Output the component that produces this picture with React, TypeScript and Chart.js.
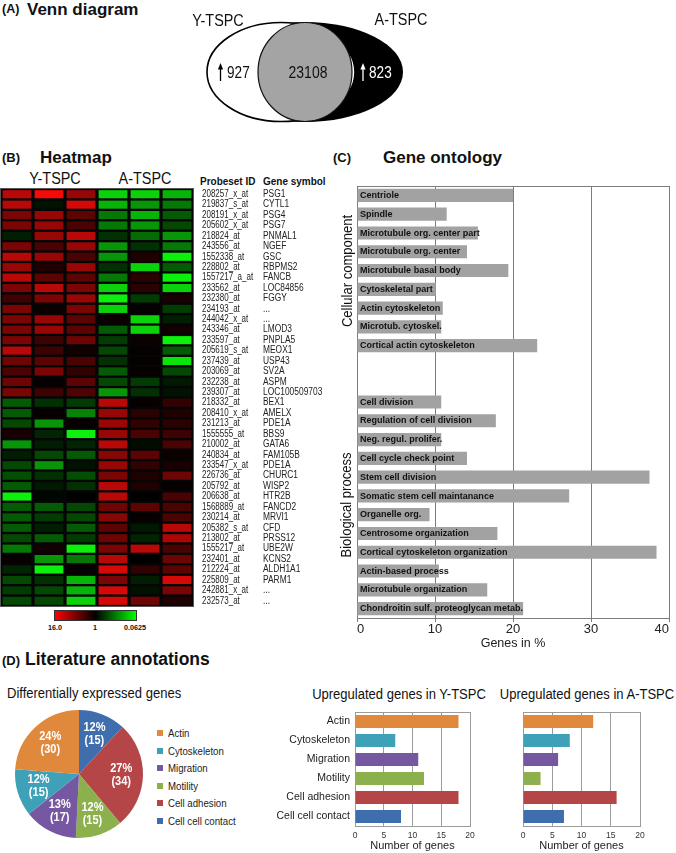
import React, { useEffect, useRef } from "react";
import { Chart, registerables } from "chart.js";
Chart.register(...registerables);

const FONT = '"Liberation Sans", Arial, Helvetica, sans-serif';

// ---------- (A) Venn ----------
const vennSets = ["Y-TSPC", "A-TSPC"];
const vennCounts = [927, 23108, 823]; // Y only, shared, A only

// ---------- (B) Heatmap ----------
const heatGroups = ["Y-TSPC", "A-TSPC"];
const heatColumns = ["Y1", "Y2", "Y3", "A1", "A2", "A3"];
const probesetIds = [
  "208257_x_at", "219837_s_at", "208191_x_at", "205602_x_at", "218824_at", "243556_at",
  "1552338_at", "228802_at", "1557217_a_at", "233562_at", "232380_at", "234193_at",
  "244042_x_at", "243346_at", "233597_at", "205619_s_at", "237439_at", "203069_at",
  "232238_at", "239307_at", "218332_at", "208410_x_at", "231213_at", "1555555_at",
  "210002_at", "240834_at", "233547_x_at", "226736_at", "205792_at", "206638_at",
  "1568889_at", "230214_at", "205382_s_at", "213802_at", "1555217_at", "232401_at",
  "212224_at", "225809_at", "242881_x_at", "232573_at",
];
const geneSymbols = [
  "PSG1", "CYTL1", "PSG4", "PSG7", "PNMAL1", "NGEF",
  "GSC", "RBPMS2", "FANCB", "LOC84856", "FGGY", "...",
  "...", "LMOD3", "PNPLA5", "MEOX1", "USP43", "SV2A",
  "ASPM", "LOC100509703", "BEX1", "AMELX", "PDE1A", "BBS9",
  "GATA6", "FAM105B", "PDE1A", "CHURC1", "WISP2", "HTR2B",
  "FANCD2", "MRVI1", "CFD", "PRSS12", "UBE2W", "KCNS2",
  "ALDH1A1", "PARM1", "...", "...",
];
// log2 fold values (+ red, - green)
const heatY1 = [3, 3, 2, 2, -0.5, 2, 3, 2.5, 3, 2, 1, 2, 2, 2, 2, 3, 1.8, 1.2, 1.8, 2,
  -1.5, -1.5, -1.2, 0.4, -2.5, -0.5, -1.2, -1.3, -1.5, -4, -1.5, -1.5, -1.5, -1.2, -2, 0.1, -0.6, -1.2, -1, -1.2];
const heatY2 = [4, -0.3, 2.5, 2.5, 2.5, 1.2, 2.5, 0.5, 1.5, 3, 2, 0.2, 2.5, 2.5, 1, 1, 1.5, 2, 0.1, 1,
  -0.8, 0.1, -2.5, -0.6, -0.5, -1.2, -2.5, -0.8, -0.4, -0.1, -1.5, -1, -0.5, -1.5, 0.3, -2.5, -4, -0.8, -1.2, -1.2];
const heatY3 = [2.5, 3.5, 1.5, 1.2, 3, 2.5, 1.2, 2.5, 1.5, 2, 2.5, 2, 1.5, 1.5, 1.8, 0.3, 1.2, 0.8, 1.5, 1.3,
  -1, -2.2, 0.1, -4, -0.6, -1.5, -0.3, -1.3, -0.8, 0, -1.2, -1.2, -1.5, -1, -4, -2, 0.1, -3, -3, -3.5];
const heatA1 = [-3.5, -3, -2, -2, -0.8, -2.5, -2.5, -0.8, -2, -3.5, -4, -3.5, 0.2, -1.5, -1, -1.2, -0.8, -1.5, -1.2, -2.5,
  3, 2.5, 2.5, 2.5, 3, 2.2, 2.5, 2, 3, 3, 1.8, 2.2, 1.5, 1.8, 2, 3, 3.5, 2, 3.5, 3.5];
const heatA2 = [-3.5, -2.5, -3, -2.5, -1.8, -0.8, 0.5, -3.5, 0.7, 0.7, -1, 0.1, -3.5, -3.5, 0.2, 0.1, 0.1, 0.1, -1, -0.8,
  0.1, 0.7, 0.8, 1.2, -0.2, 1.5, 0.8, 0.5, 0.5, 0, 1.5, 0.1, -0.4, -0.6, 3, 0, 0.8, -0.5, -0.3, 1.8];
const heatA3 = [-3, -2, -1.5, -1.2, -2.5, -2, -4, -1.5, -4, -3.5, 0.4, -1, -0.5, 0.3, -4, -1.5, -3.8, -1.2, -0.4, -0.3,
  0.8, 0.5, 0.7, 1, 1.2, 0.2, 0.4, 1.8, 0.1, 1.2, 1.2, 1.2, 3, 2.8, 1.2, 1.8, 1.5, 3.5, 2, 0.5];
const heatScaleLabels = ["16.0", "1", "0.0625"];

// ---------- (C) Gene ontology ----------
const goGroups = ["Cellular component", "Biological process"];
const goLabels = [
  "Centriole", "Spindle", "Microtubule org. center part", "Microtubule org. center",
  "Microtubule basal body", "Cytoskeletal part", "Actin cytoskeleton", "Microtub. cytoskel.",
  "Cortical actin cytoskeleton", "", "",
  "Cell division", "Regulation of cell division", "Neg. regul. prolifer.", "Cell cycle check point",
  "Stem cell division", "Somatic stem cell maintanance", "Organelle org.", "Centrosome organization",
  "Cortical cytoskeleton organization", "Actin-based process", "Microtubule organization",
  "Chondroitin sulf. proteoglycan metab.",
];
const goValues = [
  20.0, 11.5, 15.5, 14.1, 19.4, 10.1, 11.0, 10.8, 23.1, null, null,
  10.8, 17.8, 10.8, 14.1, 37.5, 27.2, 9.3, 18.0, 38.4, 10.5, 16.7, 21.3,
];
const goTicks = [0, 10, 20, 30, 40];

// ---------- (D) Literature annotations ----------
const annoCategories = ["Actin", "Cytoskeleton", "Migration", "Motility", "Cell adhesion", "Cell cell contact"];
const annoColors = ["#E0883B", "#3FA1B7", "#7558A1", "#8CB04B", "#B44647", "#3F6EAE"];
const pieCounts = [30, 15, 17, 15, 34, 15]; // same order as annoCategories
const upYTSPC = [18, 7, 11, 12, 18, 8];
const upATSPC = [12, 8, 6, 3, 16, 7];
const barTicks = [0, 5, 10, 15, 20];

// ---------- helpers ----------
function heatColor(v: number) {
  const t = Math.max(-1, Math.min(1, v / 4));
  if (t >= 0) return `rgb(${Math.round(245 * t)},${Math.round(10 * t)},${Math.round(10 * t)})`;
  const u = -t;
  return `rgb(${Math.round(12 * u)},${Math.round(240 * u)},${Math.round(12 * u)})`;
}

function ChartCanvas({ left, top, width, height, make }: any) {
  const ref = useRef<HTMLCanvasElement | null>(null);
  useEffect(() => {
    if (!ref.current) return;
    const chart = new Chart(ref.current, make());
    return () => chart.destroy();
  }, []);
  return (
    <canvas
      ref={ref}
      width={width}
      height={height}
      style={{ position: "absolute", left, top, width, height }}
    />
  );
}

function T({ x, y, children, size = 12, bold = false, anchor = "start", color = "#111", rotate = 0, sx = 1 }: any) {
  const tx = anchor === "middle" ? "-50%" : anchor === "end" ? "-100%" : "0";
  const origin = anchor === "middle" ? "center" : anchor === "end" ? "right" : "left";
  return (
    <div
      style={{
        position: "absolute",
        left: x,
        top: y,
        transform: `translate(${tx}, -50%)${rotate ? ` rotate(${rotate}deg)` : ""}`,
        whiteSpace: "nowrap",
        fontFamily: FONT,
        fontSize: size,
        fontWeight: bold ? 700 : 400,
        lineHeight: 1,
        color,
      }}
    >
      <span style={{ display: "inline-block", transform: `scaleX(${sx})`, transformOrigin: origin }}>
        {children}
      </span>
    </div>
  );
}

function squeezeText(ctx: any, text: string, x: number, y: number, sx: number) {
  ctx.save();
  ctx.translate(x, y);
  ctx.scale(sx, 1);
  ctx.fillText(text, 0, 0);
  ctx.restore();
}

// ---------- chart configs ----------
function makeVenn(): any {
  const vennPlugin = {
    id: "vennDraw",
    afterDraw(chart: any) {
      const { ctx } = chart;
      const xs = chart.scales.x;
      const ys = chart.scales.y;
      const px = (v: number) => xs.getPixelForValue(v);
      const py = (v: number) => ys.getPixelForValue(v);
      const lx = (d: number) => px(d) - px(0);
      const ly = (d: number) => Math.abs(py(d) - py(0));
      ctx.save();
      // A-TSPC (black, outer)
      ctx.beginPath();
      ctx.ellipse(px(305), py(72), lx(98), ly(50), 0, 0, Math.PI * 2);
      ctx.fillStyle = "#000";
      ctx.fill();
      // Y-TSPC (white)
      ctx.beginPath();
      ctx.ellipse(px(281), py(72), lx(74), ly(49.5), 0, 0, Math.PI * 2);
      ctx.fillStyle = "#fff";
      ctx.fill();
      ctx.lineWidth = 1.6;
      ctx.strokeStyle = "#000";
      ctx.stroke();
      // shared
      ctx.beginPath();
      ctx.ellipse(px(305), py(72), lx(47), ly(49.5), 0, 0, Math.PI * 2);
      ctx.fillStyle = "#a4a4a4";
      ctx.fill();
      ctx.lineWidth = 1.2;
      ctx.strokeStyle = "#111";
      ctx.stroke();

      const arrow = (x: number, y0: number, y1: number, color: string) => {
        ctx.strokeStyle = color;
        ctx.fillStyle = color;
        ctx.lineWidth = 1.3;
        ctx.beginPath();
        ctx.moveTo(px(x), py(y1));
        ctx.lineTo(px(x), py(y0) + 4);
        ctx.stroke();
        ctx.beginPath();
        ctx.moveTo(px(x), py(y0));
        ctx.lineTo(px(x) - 2.6, py(y0) + 6.5);
        ctx.lineTo(px(x) + 2.6, py(y0) + 6.5);
        ctx.closePath();
        ctx.fill();
      };
      ctx.textBaseline = "middle";
      ctx.textAlign = "left";
      ctx.font = `17px ${FONT}`;
      arrow(220.5, 63, 81, "#000");
      ctx.fillStyle = "#111";
      squeezeText(ctx, String(vennCounts[0]), px(227), py(73), 0.8);
      ctx.textAlign = "center";
      squeezeText(ctx, String(vennCounts[1]), px(308), py(73), 0.82);
      ctx.textAlign = "left";
      arrow(363, 63, 81, "#fff");
      ctx.fillStyle = "#fff";
      squeezeText(ctx, String(vennCounts[2]), px(369), py(73), 0.8);
      // set labels
      ctx.fillStyle = "#111";
      ctx.font = `16px ${FONT}`;
      ctx.textAlign = "center";
      squeezeText(ctx, vennSets[0], px(218), py(22), 0.9);
      squeezeText(ctx, vennSets[1], px(401), py(21), 0.9);
      ctx.restore();
    },
  };
  return {
    type: "scatter",
    data: { datasets: [] },
    options: {
      animation: false,
      responsive: false,
      events: [],
      layout: { padding: 0 },
      plugins: { legend: { display: false }, tooltip: { enabled: false } },
      scales: {
        x: { type: "linear", min: 180, max: 440, display: false },
        y: { type: "linear", min: 0, max: 130, reverse: true, display: false },
      },
    },
    plugins: [vennPlugin],
  };
}

function makeHeatmap(): any {
  const cols = [heatY1, heatY2, heatY3, heatA1, heatA2, heatA3];
  const bgPlugin = {
    id: "heatBg",
    beforeDatasetsDraw(chart: any) {
      const { ctx, chartArea: a } = chart;
      ctx.save();
      ctx.fillStyle = "#050505";
      ctx.fillRect(a.left - 1, a.top - 1, a.right - a.left + 2, a.bottom - a.top + 2);
      ctx.strokeStyle = "#555";
      ctx.lineWidth = 1;
      ctx.strokeRect(a.left - 0.5, a.top - 0.5, a.right - a.left + 1, a.bottom - a.top + 1);
      ctx.restore();
    },
    afterDraw(chart: any) {
      const { ctx } = chart;
      const ys = chart.scales.y;
      ctx.save();
      ctx.fillStyle = "#222";
      ctx.font = `10px ${FONT}`;
      ctx.textBaseline = "middle";
      ctx.textAlign = "left";
      probesetIds.forEach((id, i) => {
        const y = ys.getPixelForValue(i);
        squeezeText(ctx, id, 202, y, 0.8);
        squeezeText(ctx, geneSymbols[i], 263, y, 0.84);
      });
      ctx.restore();
    },
  };
  return {
    type: "bar",
    data: {
      labels: probesetIds,
      datasets: heatColumns.map((name, c) => ({
        label: name,
        data: probesetIds.map(() => [c + 0.05, c + 0.95]),
        backgroundColor: cols[c].map(heatColor),
        borderWidth: 0,
        grouped: false,
        barPercentage: 0.78,
        categoryPercentage: 1,
      })),
    },
    options: {
      animation: false,
      responsive: false,
      events: [],
      indexAxis: "y",
      layout: { padding: { left: 1, right: 147, top: 3, bottom: 4 } },
      plugins: { legend: { display: false }, tooltip: { enabled: false } },
      scales: {
        x: { type: "linear", min: 0, max: 6, display: false },
        y: { type: "category", display: false, offset: true },
      },
    },
    plugins: [bgPlugin],
  };
}

function makeGO(): any {
  const gridColor = "#7c7c7c";
  const plugin = {
    id: "goText",
    afterDatasetsDraw(chart: any) {
      const { ctx, chartArea: a } = chart;
      const meta = chart.getDatasetMeta(0);
      ctx.save();
      ctx.fillStyle = "#111";
      ctx.font = `bold 9.5px ${FONT}`;
      ctx.textBaseline = "middle";
      ctx.textAlign = "left";
      meta.data.forEach((bar: any, i: number) => {
        if (!goLabels[i]) return;
        squeezeText(ctx, goLabels[i], a.left + 3, bar.y, 0.95);
      });
      ctx.strokeStyle = gridColor;
      ctx.lineWidth = 1;
      ctx.beginPath();
      ctx.moveTo(a.left, a.top + 0.5);
      ctx.lineTo(a.right, a.top + 0.5);
      ctx.stroke();
      ctx.restore();
    },
  };
  return {
    type: "bar",
    data: {
      labels: goLabels,
      datasets: [
        {
          data: goValues,
          backgroundColor: "#a2a2a2",
          borderWidth: 0,
          barPercentage: 0.7,
          categoryPercentage: 1,
        },
      ],
    },
    options: {
      animation: false,
      responsive: false,
      events: [],
      indexAxis: "y",
      layout: { padding: { left: 17, right: 7, top: 6, bottom: 0 } },
      plugins: { legend: { display: false }, tooltip: { enabled: false } },
      scales: {
        x: {
          min: goTicks[0],
          max: goTicks[goTicks.length - 1],
          afterBuildTicks: (s: any) => {
            s.ticks = goTicks.map((v) => ({ value: v }));
          },
          ticks: { align: "inner", font: { family: FONT, size: 13 }, color: "#222", padding: 0 },
          grid: { color: gridColor, tickLength: 4, lineWidth: 1 },
          border: { color: gridColor },
          title: {
            display: true,
            text: "Genes in %",
            font: { family: FONT, size: 12.5 },
            color: "#222",
            padding: { top: 0, bottom: 4 },
          },
          afterFit: (s: any) => {
            s.height = 37;
          },
        },
        y: {
          ticks: { display: false },
          grid: { display: false, drawTicks: false },
          border: { color: gridColor },
          afterFit: (s: any) => {
            s.width = 0;
          },
        },
      },
    },
    plugins: [plugin],
  };
}

function makeUpBar(values: number[], showLabels: boolean, padLeft: number, padRight: number, axisW: number): any {
  const gridColor = "#9c9c9c";
  const frame = {
    id: "frame",
    afterDatasetsDraw(chart: any) {
      const { ctx, chartArea: a } = chart;
      ctx.save();
      ctx.strokeStyle = gridColor;
      ctx.lineWidth = 1;
      ctx.beginPath();
      ctx.moveTo(a.left, a.top + 0.5);
      ctx.lineTo(a.right, a.top + 0.5);
      ctx.stroke();
      ctx.restore();
    },
  };
  return {
    type: "bar",
    data: {
      labels: annoCategories,
      datasets: [
        {
          data: values,
          backgroundColor: annoColors,
          borderWidth: 0,
          barPercentage: 0.68,
          categoryPercentage: 1,
        },
      ],
    },
    options: {
      animation: false,
      responsive: false,
      events: [],
      indexAxis: "y",
      layout: { padding: { left: padLeft, right: padRight, top: 12, bottom: 0 } },
      plugins: { legend: { display: false }, tooltip: { enabled: false } },
      scales: {
        x: {
          min: barTicks[0],
          max: barTicks[barTicks.length - 1],
          afterBuildTicks: (s: any) => {
            s.ticks = barTicks.map((v) => ({ value: v }));
          },
          ticks: { font: { family: FONT, size: 8.5 }, color: "#333", padding: 5 },
          grid: { color: gridColor, drawTicks: false, lineWidth: 1 },
          border: { color: gridColor },
          title: {
            display: true,
            text: "Number of genes",
            font: { family: FONT, size: 11 },
            color: "#222",
            padding: { top: 0, bottom: 0 },
          },
          afterFit: (s: any) => {
            s.height = 27;
          },
        },
        y: {
          ticks: { display: showLabels, font: { family: FONT, size: 10.5 }, color: "#222", padding: 5 },
          grid: { display: false, drawTicks: false },
          border: { color: gridColor },
          afterFit: (s: any) => {
            s.width = axisW;
          },
        },
      },
    },
    plugins: [frame],
  };
}

function makePie(): any {
  // slices run clockwise from 12 o'clock in reverse legend order
  const order = annoCategories.map((_, i) => annoCategories.length - 1 - i);
  const labels = order.map((i) => annoCategories[i]);
  const counts = order.map((i) => pieCounts[i]);
  const colors = order.map((i) => annoColors[i]);
  const total = counts.reduce((a, b) => a + b, 0);
  const labelPlugin = {
    id: "pieLabels",
    afterDatasetsDraw(chart: any) {
      const { ctx } = chart;
      const meta = chart.getDatasetMeta(0);
      ctx.save();
      ctx.fillStyle = "#fff";
      ctx.font = `bold 12px ${FONT}`;
      ctx.textAlign = "center";
      ctx.textBaseline = "middle";
      meta.data.forEach((arc: any, i: number) => {
        const p = arc.getProps(["x", "y", "startAngle", "endAngle", "outerRadius"], true);
        const mid = (p.startAngle + p.endAngle) / 2;
        const r = p.outerRadius * 0.66;
        const cx = p.x + Math.cos(mid) * r;
        const cy = p.y + Math.sin(mid) * r;
        const pct = Math.round((counts[i] / total) * 100);
        squeezeText(ctx, `${pct}%`, cx, cy - 6.5, 0.92);
        squeezeText(ctx, `(${counts[i]})`, cx, cy + 6.5, 0.92);
      });
      ctx.restore();
    },
  };
  return {
    type: "pie",
    data: {
      labels,
      datasets: [{ data: counts, backgroundColor: colors, borderWidth: 0 }],
    },
    options: {
      animation: false,
      responsive: false,
      events: [],
      layout: { padding: 5 },
      plugins: { legend: { display: false }, tooltip: { enabled: false } },
    },
    plugins: [labelPlugin],
  };
}

export default function App() {
  return (
    <div
      style={{
        position: "absolute",
        left: 0,
        top: 0,
        width: 676,
        height: 853,
        background: "#fff",
        overflow: "hidden",
        fontFamily: FONT,
      }}
    >
      {/* (A) */}
      <T x={2} y={9} size={12.5} bold>(A)</T>
      <T x={27} y={9} size={17} bold>Venn diagram</T>
      <ChartCanvas left={180} top={0} width={260} height={130} make={makeVenn} />

      {/* (B) */}
      <T x={2} y={157} size={13} bold>(B)</T>
      <T x={40} y={157} size={17} bold>Heatmap</T>
      <T x={55} y={179} size={16} anchor="middle" sx={0.9}>{heatGroups[0]}</T>
      <T x={145} y={179} size={16} anchor="middle" sx={0.9}>{heatGroups[1]}</T>
      <T x={200} y={181} size={10.5} bold sx={0.95}>Probeset ID</T>
      <T x={263} y={181} size={10.5} bold sx={0.95}>Gene symbol</T>
      <ChartCanvas left={0} top={186} width={340} height={424} make={makeHeatmap} />
      <div
        style={{
          position: "absolute",
          left: 54,
          top: 610,
          width: 83,
          height: 11,
          background: "linear-gradient(to right, #ff0000, #000000, #00ff00)",
          border: "1px solid #333",
          boxSizing: "border-box",
        }}
      />
      <T x={55} y={628} size={8} bold anchor="middle" sx={0.9}>{heatScaleLabels[0]}</T>
      <T x={95} y={628} size={8} bold anchor="middle" sx={0.9}>{heatScaleLabels[1]}</T>
      <T x={135} y={628} size={8} bold anchor="middle" sx={0.9}>{heatScaleLabels[2]}</T>

      {/* (C) */}
      <T x={333} y={157} size={13} bold>(C)</T>
      <T x={383} y={157} size={17} bold>Gene ontology</T>
      <ChartCanvas left={340} top={180} width={336} height={475} make={makeGO} />
      <T x={347} y={271} size={14} anchor="middle" rotate={-90} sx={0.93}>{goGroups[0]}</T>
      <T x={346} y={505} size={14} anchor="middle" rotate={-90} sx={0.93}>{goGroups[1]}</T>

      {/* (D) */}
      <T x={2} y={660} size={13} bold>(D)</T>
      <T x={25} y={660} size={17.5} bold>Literature annotations</T>
      <T x={7} y={693} size={14} sx={0.93}>Differentially expressed genes</T>
      <ChartCanvas left={10} top={705} width={138} height={138} make={makePie} />
      {annoCategories.map((c, i) => (
        <React.Fragment key={c}>
          <div
            style={{
              position: "absolute",
              left: 157,
              top: 733 + i * 17.6 - 3,
              width: 6,
              height: 6,
              background: annoColors[i],
            }}
          />
          <T x={168} y={733 + i * 17.6} size={10.5} color="#222" sx={0.92}>{c}</T>
        </React.Fragment>
      ))}
      <T x={399} y={694} size={14} anchor="middle" sx={0.93}>Upregulated genes in Y-TSPC</T>
      <T x={587} y={694} size={14} anchor="middle" sx={0.93}>Upregulated genes in A-TSPC</T>
      <ChartCanvas left={262} top={700} width={218} height={153} make={() => makeUpBar(upYTSPC, true, 0, 10, 93)} />
      <ChartCanvas left={515} top={700} width={161} height={153} make={() => makeUpBar(upATSPC, false, 8, 36, 0)} />
    </div>
  );
}
